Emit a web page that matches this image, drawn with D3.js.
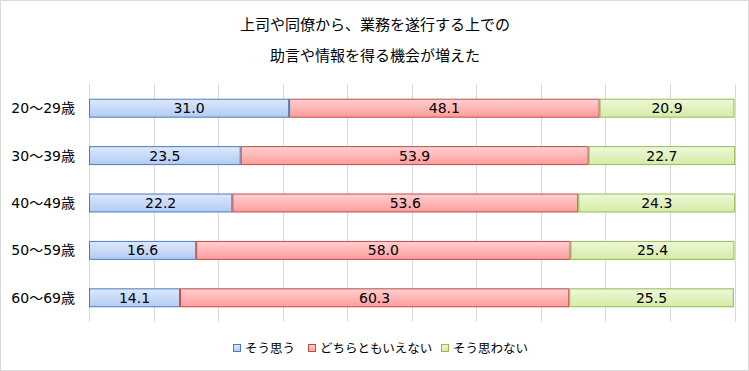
<!DOCTYPE html>
<html><head><meta charset="utf-8">
<script src="https://cdn.jsdelivr.net/npm/d3@7"></script>
<style>body{margin:0;background:#fff}svg{display:block}text{font-family:"Noto Sans CJK JP","Noto Sans",sans-serif}.num{font-family:"DejaVu Sans","Noto Sans CJK JP",sans-serif}</style>
</head><body><svg id="c" width="749" height="371"></svg>
<script>
const titleLines = ["上司や同僚から、業務を遂行する上での", "助言や情報を得る機会が増えた"];
const categories = ["20～29歳", "30～39歳", "40～49歳", "50～59歳", "60～69歳"];
const seriesNames = ["そう思う", "どちらともいえない", "そう思わない"];
const agree = [31.0, 23.5, 22.2, 16.6, 14.1];
const neutral = [48.1, 53.9, 53.6, 58.0, 60.3];
const disagree = [20.9, 22.7, 24.3, 25.4, 25.5];
const xTicks = [0,10,20,30,40,50,60,70,80,90,100];

const series = [agree, neutral, disagree];
const fills = [["#dde8fc","#b2cbf4"],["#ffd0d0","#ff9c9c"],["#eef8d8","#d4eca6"]];
const strokes = ["#4a7ebb","#be4b48","#98b954"];

const svg = d3.select("#c");
svg.append("rect").attr("x",0.5).attr("y",0.5).attr("width",748).attr("height",370)
  .attr("fill","#fff").attr("stroke","#d9d9d9");

const defs = svg.append("defs");
fills.forEach((f,i)=>{
  const g = defs.append("linearGradient").attr("id","g"+i).attr("x1",0).attr("y1",0).attr("x2",0).attr("y2",1);
  g.append("stop").attr("offset","0%").attr("stop-color",f[0]);
  g.append("stop").attr("offset","100%").attr("stop-color",f[1]);
});

const x = d3.scaleLinear().domain([0,100]).range([89,734.5]);
const y = d3.scaleBand().domain(categories).range([84.5,321.5]).paddingInner(0.6).paddingOuter(0.3);

// gridlines
svg.append("g").selectAll("line").data(xTicks).join("line")
  .attr("x1",d=>Math.round(x(d))+0.5).attr("x2",d=>Math.round(x(d))+0.5)
  .attr("y1",84).attr("y2",322).attr("stroke","#d9d9d9");

// title
svg.append("g").selectAll("text").data(titleLines).join("text")
  .attr("x",375).attr("y",(d,i)=>30+i*31).attr("text-anchor","middle")
  .attr("font-size",15).attr("fill","#000").text(d=>d);

// category labels
svg.append("g").selectAll("text").data(categories).join("text")
  .attr("class","num")
  .attr("x",75).attr("y",d=>y(d)+y.bandwidth()/2+5).attr("text-anchor","end")
  .attr("font-size",14).attr("fill","#000").text(d=>d);

// bars
categories.forEach((c,ci)=>{
  let acc = 0;
  series.forEach((s,si)=>{
    const v = s[ci];
    const x0 = x(acc), x1 = x(acc+v);
    svg.append("rect").attr("x",x0+0.5).attr("y",y(c)+0.5)
      .attr("width",x1-x0-1).attr("height",y.bandwidth()-1)
      .attr("fill","url(#g"+si+")").attr("stroke",strokes[si]).attr("stroke-width",1);
    svg.append("text").attr("class","num").attr("x",(x0+x1)/2).attr("y",y(c)+y.bandwidth()/2+5)
      .attr("text-anchor","middle").attr("font-size",14).attr("fill","#000")
      .text(v.toFixed(1));
    acc += v;
  });
});

// legend
const legX = [233, 308, 441];
const lg = svg.append("g");
seriesNames.forEach((n,i)=>{
  lg.append("rect").attr("x",legX[i]+0.5).attr("y",344.5).attr("width",7).attr("height",7)
    .attr("fill","url(#g"+i+")").attr("stroke",strokes[i]);
  lg.append("text").attr("x",legX[i]+12).attr("y",353).attr("font-size",12.5).attr("fill","#000").text(n);
});
</script></body></html>
